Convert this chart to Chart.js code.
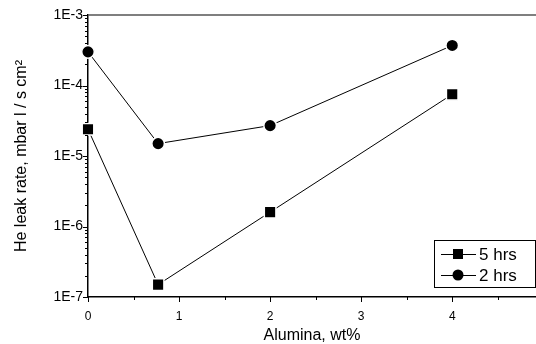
<!DOCTYPE html>
<html>
<head>
<meta charset="utf-8">
<script src="https://cdn.jsdelivr.net/npm/chart.js@4.4.1/dist/chart.umd.min.js"></script>
<style>
  html, body { margin: 0; padding: 0; background: #fff; }
</style>
</head>
<body>
<canvas id="chart" width="536" height="344"></canvas>
<script>
// data
const alumina = [0, 0.77, 2, 4];
const leak5h = [2.4e-5, 1.5e-7, 1.6e-6, 7.5e-5];
const leak2h = [3.0e-4, 1.5e-5, 2.7e-5, 3.7e-4];
const seriesLabels = ['5 hrs', '2 hrs'];
const xTickValues = [0, 1, 2, 3, 4];
const yDecades = [-7, -6, -5, -4, -3];

const FONT = "'Liberation Sans', Arial, sans-serif";

function pts(xs, ys) {
  return xs.map((x, i) => ({ x, y: ys[i] }));
}

// tick marks (outward, major + minor), top frame line and the boxed legend
const framePlugin = {
  id: 'frame',
  afterDraw(chart) {
    const ctx = chart.ctx;
    const { left, right, top, bottom } = chart.chartArea;
    const xs = chart.scales.x;
    const ys = chart.scales.y;
    ctx.save();

    // top line
    ctx.strokeStyle = '#555';
    ctx.lineWidth = 1.5;
    ctx.beginPath();
    ctx.moveTo(left, top);
    ctx.lineTo(right, top);
    ctx.stroke();

    ctx.strokeStyle = '#000';
    ctx.lineWidth = 1;
    ctx.beginPath();
    // y ticks
    for (let i = 0; i < yDecades.length; i++) {
      const d = yDecades[i];
      const yy = Math.round(ys.getPixelForValue(Math.pow(10, d))) + 0.5;
      ctx.moveTo(left - 5, yy); ctx.lineTo(left, yy);
      if (i === yDecades.length - 1) break;
      for (let m = 2; m <= 9; m++) {
        const y2 = Math.round(ys.getPixelForValue(m * Math.pow(10, d))) + 0.5;
        ctx.moveTo(left - 3, y2); ctx.lineTo(left, y2);
      }
    }
    // x ticks
    for (let v = 0; v <= xs.max; v += 0.5) {
      const xx = Math.round(xs.getPixelForValue(v)) + 0.5;
      const len = Number.isInteger(v) ? 5 : 3;
      ctx.moveTo(xx, bottom); ctx.lineTo(xx, bottom + len);
    }
    ctx.stroke();

    // legend
    const bx = 434, by = 240, bw = 101, bh = 47;
    ctx.fillStyle = '#fff';
    ctx.fillRect(bx, by, bw, bh);
    ctx.strokeRect(bx + 0.5, by + 0.5, bw, bh);
    ctx.font = '17px ' + FONT;
    ctx.textBaseline = 'middle';
    chart.data.datasets.forEach((ds, i) => {
      const cy = by + 14 + i * 21;
      ctx.strokeStyle = '#000';
      ctx.beginPath();
      ctx.moveTo(441, cy + 0.5); ctx.lineTo(476, cy + 0.5);
      ctx.stroke();
      ctx.fillStyle = '#000';
      const mx = 458;
      if (ds.pointStyle === 'rect') {
        ctx.fillRect(mx - 5, cy - 5, 10, 10);
      } else {
        ctx.beginPath();
        ctx.arc(mx, cy, 5.5, 0, Math.PI * 2);
        ctx.fill();
      }
      ctx.fillText(ds.label, 479, cy + 1);
    });
    ctx.restore();
  }
};

new Chart(document.getElementById('chart'), {
  type: 'scatter',
  data: {
    datasets: [
      {
        label: seriesLabels[0],
        data: pts(alumina, leak5h),
        showLine: true,
        borderColor: '#000',
        borderWidth: 1,
        pointStyle: 'rect',
        pointRadius: 8.2,
        pointBackgroundColor: '#000',
        pointBorderColor: '#fff',
        pointBorderWidth: 1.5,
        clip: false,
      },
      {
        label: seriesLabels[1],
        data: pts(alumina, leak2h),
        showLine: true,
        borderColor: '#000',
        borderWidth: 1,
        pointStyle: 'circle',
        pointRadius: 6.3,
        pointBackgroundColor: '#000',
        pointBorderColor: '#fff',
        pointBorderWidth: 1.5,
        clip: false,
      },
    ],
  },
  options: {
    responsive: false,
    animation: false,
    layout: { autoPadding: false, padding: { top: 15, right: 0, bottom: 0, left: 0 } },
    plugins: { legend: { display: false }, tooltip: { enabled: false } },
    scales: {
      x: {
        type: 'linear',
        min: 0,
        max: 4.92,
        grid: { display: false, drawTicks: false },
        border: { display: true, color: '#000', width: 1.5 },
        ticks: {
          stepSize: 1,
          includeBounds: false,
          padding: 12,
          color: '#000',
          font: { family: FONT, size: 12 },
          callback: (v) => (xTickValues.includes(v) ? String(v) : ''),
        },
        title: {
          display: true,
          text: 'Alumina, wt%',
          color: '#000',
          font: { family: FONT, size: 16, lineHeight: 1 },
          padding: { top: 0, bottom: 0 },
        },
        afterFit(scale) {
          scale.height = 47;
          scale.paddingLeft = 0;
          scale.paddingRight = 0;
        },
      },
      y: {
        type: 'logarithmic',
        min: 1e-7,
        max: 1e-3,
        grid: { display: false, drawTicks: false },
        border: { display: true, color: '#000', width: 1.5 },
        ticks: {
          autoSkip: false,
          padding: 5,
          color: '#000',
          font: { family: FONT, size: 14 },
          callback: (v) => {
            const e = Math.log10(v);
            return Math.abs(e - Math.round(e)) < 1e-9 ? '1E' + Math.round(e) : '';
          },
        },
        title: {
          display: true,
          text: 'He leak rate, mbar l / s cm²',
          color: '#000',
          font: { family: FONT, size: 16 },
          padding: { top: 12, bottom: 0 },
        },
        afterFit(scale) {
          scale.width = 88;
          scale.paddingTop = 0;
          scale.paddingBottom = 0;
        },
      },
    },
  },
  plugins: [framePlugin],
});
</script>
</body>
</html>
